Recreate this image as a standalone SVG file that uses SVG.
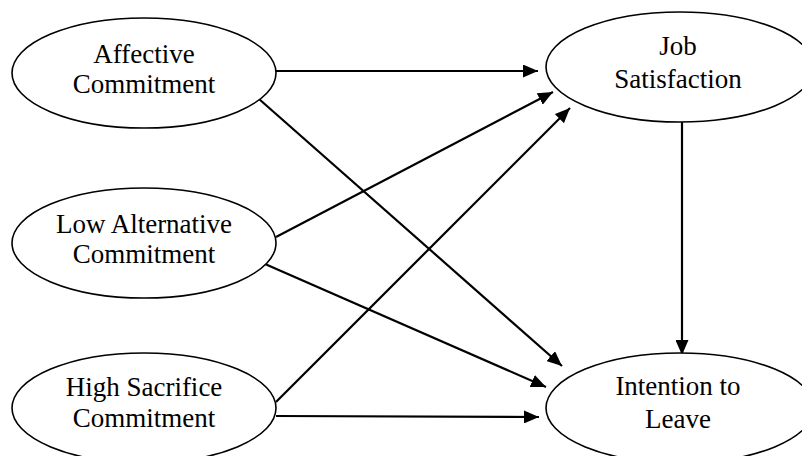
<svg xmlns="http://www.w3.org/2000/svg" width="802" height="456" viewBox="0 0 802 456">
<defs>
<marker id="ah" markerWidth="15" markerHeight="13" refX="15" refY="6.5" orient="auto" markerUnits="userSpaceOnUse">
<path d="M0,0 L15,6.5 L0,13 Z" fill="#000"/>
</marker>
<style>
.n ellipse{fill:#fff;stroke:#000;stroke-width:1.6}
.n text{font-family:"Liberation Serif","Times New Roman",serif;font-size:27px;fill:#000;text-anchor:middle}
#edges line{stroke:#000;stroke-width:2.2;marker-end:url(#ah)}
</style>
</defs>
<rect width="802" height="456" fill="#fff"/>
<g id="edges">
<line x1="276" y1="71" x2="538" y2="71"/>
<line x1="259" y1="99" x2="562" y2="366"/>
<line x1="276" y1="237" x2="553" y2="92"/>
<line x1="265" y1="264" x2="546" y2="387"/>
<line x1="276" y1="402" x2="570" y2="108"/>
<line x1="276" y1="416" x2="539" y2="417"/>
<line x1="682" y1="122" x2="682" y2="355"/>
</g>
<g id="affective" class="n">
<ellipse cx="144" cy="73" rx="132" ry="55"/>
<text x="144" y="63">Affective</text>
<text x="144" y="93">Commitment</text>
</g>
<g id="lowalt" class="n">
<ellipse cx="144" cy="243" rx="132" ry="55"/>
<text x="144" y="233">Low Alternative</text>
<text x="144" y="263">Commitment</text>
</g>
<g id="highsac" class="n">
<ellipse cx="144" cy="408" rx="132" ry="55"/>
<text x="144" y="396">High Sacrifice</text>
<text x="144" y="427">Commitment</text>
</g>
<g id="jobsat" class="n">
<ellipse cx="680" cy="67" rx="134" ry="55"/>
<text x="678" y="55">Job</text>
<text x="678" y="88">Satisfaction</text>
</g>
<g id="intention" class="n">
<ellipse cx="680" cy="408" rx="134" ry="55"/>
<text x="678" y="395">Intention to</text>
<text x="678" y="428">Leave</text>
</g>
</svg>
